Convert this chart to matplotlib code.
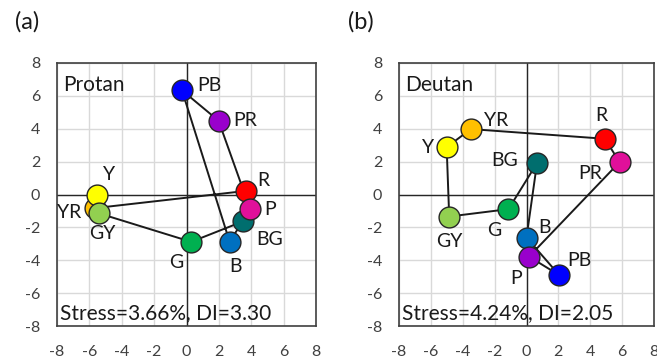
import matplotlib
matplotlib.use("Agg")
import matplotlib.pyplot as plt

plt.rcParams['font.family'] = ['Lato', 'DejaVu Sans']

# ---- data ----
hue_order = ["R", "YR", "Y", "GY", "G", "BG", "B", "PB", "Pu", "Mg"]
hue_colors = ["#ff0000", "#ffc000", "#ffff00", "#92d050", "#00b050",
              "#006e6e", "#0070c0", "#0000ff", "#9900cc", "#e0109a"]

protan_labels = ["R", "YR", "Y", "GY", "G", "BG", "B", "PB", "PR", "P"]
protan_x = [3.69, -5.67, -5.53, -5.43, 0.29, 3.48, 2.66, -0.28, 1.98, 3.93]
protan_y = [0.22, -0.83, -0.02, -1.14, -2.88, -1.64, -2.86, 6.34, 4.49, -0.89]
protan_title = "Protan"
protan_stats = "Stress=3.66%, DI=3.30"

deutan_labels = ["R", "YR", "Y", "GY", "G", "BG", "B", "PB", "P", "PR"]
deutan_x = [4.92, -3.49, -5.01, -4.85, -1.13, 0.66, 0.00, 2.06, 0.16, 5.84]
deutan_y = [3.39, 3.98, 2.88, -1.34, -0.89, 1.91, -2.62, -4.91, -3.78, 1.97]
deutan_title = "Deutan"
deutan_stats = "Stress=4.24%, DI=2.05"

ticks = [-8, -6, -4, -2, 0, 2, 4, 6, 8]

# label offsets (pixels) per point
protan_off = [(17, 10), (-26, -4), (12, 20), (4, -20), (-15, -21), (27, -18),
              (6, -25), (27, 5), (27, 0), (20, 0)]
deutan_off = [(-4, 23), (25, 9), (-19, 0), (0, -25), (-14, -21), (-32, 3),
              (18, 10), (20, 15), (-13, -22), (-29, -11)]

fig = plt.figure(figsize=(6.57, 3.61), dpi=100)
ax1 = fig.add_axes([57/657, 1-326/361, 259/657, 263/361])
ax2 = fig.add_axes([399/657, 1-326/361, 255/657, 263/361])


def draw(ax, xs, ys, labels, offs, title, stats):
    ax.set_xlim(-8, 8)
    ax.set_ylim(-8, 8)
    ax.set_xticks(ticks)
    ax.set_yticks(ticks)
    ax.set_xticklabels([str(t) for t in ticks])
    ax.set_yticklabels([str(t) for t in ticks])
    ax.grid(True, color="#d9d9d9", linewidth=1.0, zorder=0)
    ax.set_axisbelow(True)
    ax.tick_params(length=0, labelsize=11.5, labelcolor="#404040")
    ax.tick_params(axis='y', pad=12)
    ax.tick_params(axis='x', pad=14)
    for sp in ax.spines.values():
        sp.set_color("#404040")
        sp.set_linewidth(1.2)
    ax.axhline(0, color="#262626", linewidth=1.0, zorder=1)
    ax.axvline(0, color="#262626", linewidth=1.0, zorder=1)
    lx = list(xs) + [xs[0]]
    ly = list(ys) + [ys[0]]
    ax.plot(lx, ly, color="#1a1a1a", linewidth=1.4, zorder=2)
    for i in range(len(xs)):
        ax.plot(xs[i], ys[i], 'o', markersize=15, markerfacecolor=hue_colors[i],
                markeredgecolor="#262626", markeredgewidth=1.0, zorder=3)
    for i in range(len(xs)):
        ax.annotate(labels[i], (xs[i], ys[i]), xytext=offs[i],
                    textcoords='offset pixels', ha='center', va='center',
                    fontsize=14, color="#1a1a1a", zorder=4)
    ax.text(0.025, 0.915, title, transform=ax.transAxes, fontsize=15,
            color="#1a1a1a", ha='left', va='center')
    ax.text(0.012, 0.05, stats, transform=ax.transAxes, fontsize=15,
            color="#1a1a1a", ha='left', va='center')


draw(ax1, protan_x, protan_y, protan_labels, protan_off, protan_title, protan_stats)
draw(ax2, deutan_x, deutan_y, deutan_labels, deutan_off, deutan_title, deutan_stats)

fig.text(27/657, 1-22/361, "(a)", fontsize=17, ha='center', va='center', color="#1a1a1a")
fig.text(361/657, 1-22/361, "(b)", fontsize=17, ha='center', va='center', color="#1a1a1a")

fig.savefig("out.png", dpi=100)
